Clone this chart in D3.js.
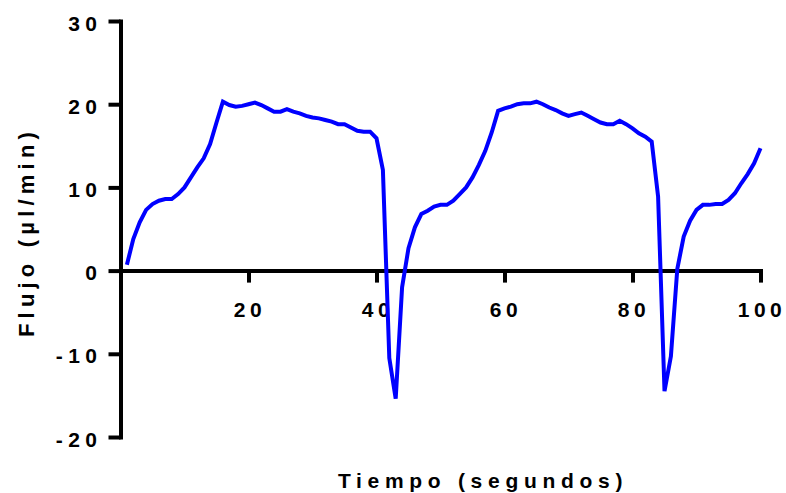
<!DOCTYPE html>
<meta charset="utf-8">
<title>Flujo vs tiempo</title>
<script src="https://d3js.org/d3.v7.min.js"></script>
<style>
  body { margin: 0; background: #fff; }
  text { font-family: "Liberation Sans", Arial, sans-serif; font-weight: bold; fill: #000; }
</style>
<body>
<div id="my_dataviz"></div>
</body>
<script>

// data: one sample per second
var tiempo = d3.range(1, 101)
var flujo = [
  0.7, 3.8, 5.8, 7.3, 8.0, 8.4, 8.6, 8.6, 9.2, 10.0,
  11.2, 12.4, 13.5, 15.2, 17.8, 20.3, 19.9, 19.7, 19.8, 20.0,
  20.2, 19.9, 19.5, 19.1, 19.1, 19.4, 19.1, 18.9, 18.6, 18.4,
  18.3, 18.1, 17.9, 17.6, 17.6, 17.2, 16.8, 16.7, 16.7, 15.9,
  12.1, -10.5, -15.4, -2.0, 2.7, 5.2, 6.8, 7.2, 7.7, 7.9,
  7.9, 8.4, 9.2, 10.0, 11.2, 12.7, 14.4, 16.6, 19.2, 19.5,
  19.7, 20.0, 20.1, 20.1, 20.3, 20.0, 19.6, 19.3, 18.9, 18.6,
  18.8, 19.0, 18.6, 18.2, 17.8, 17.6, 17.6, 18.0, 17.6, 17.1,
  16.5, 16.1, 15.5, 8.9, -14.5, -10.3, 0.2, 4.1, 6.0, 7.3,
  7.9, 7.9, 8.0, 8.0, 8.5, 9.3, 10.5, 11.6, 12.9, 14.7
]
var xTicks = [20, 40, 60, 80, 100]
var yTicks = [-20, -10, 0, 10, 20, 30]

var data = tiempo.map(function(t, i) { return { t: t, v: flujo[i] } })

var width = 786, height = 493

var svg = d3.select("#my_dataviz")
  .append("svg")
    .attr("width", width)
    .attr("height", height)

// scales
var x = d3.scaleLinear().domain([0, 100]).range([120.5, 760.5])
var y = d3.scaleLinear().domain([-20, 30]).range([437, 21])

// plain hyphen for negatives, like the original
var fmt = function(d) { return String(d) }

// Y axis
var yAxis = svg.append("g")
  .attr("transform", "translate(" + x(0) + ",0)")
  .call(d3.axisLeft(y).tickValues(yTicks).tickFormat(fmt).tickSize(12).tickSizeOuter(0).tickPadding(6))
yAxis.select(".domain").attr("stroke-width", 4).attr("stroke-linecap", "square")
yAxis.selectAll(".tick line").attr("stroke-width", 4)
yAxis.selectAll(".tick text")
  .attr("dy", 9)
  .style("font-size", "21px")
  .style("letter-spacing", "5.5px")

// X axis sits on y = 0
var xAxis = svg.append("g")
  .attr("transform", "translate(0," + y(0) + ")")
  .call(d3.axisBottom(x).tickValues(xTicks).tickFormat(fmt).tickSize(12).tickSizeOuter(0).tickPadding(19.5))
xAxis.select(".domain").attr("stroke-width", 4).attr("stroke-linecap", "square")
xAxis.selectAll(".tick line").attr("stroke-width", 4)
xAxis.selectAll(".tick text")
  .attr("dx", 1)
  .style("font-size", "21px")
  .style("letter-spacing", "4.5px")

// the curve
svg.append("path")
  .datum(data)
  .attr("fill", "none")
  .attr("stroke", "#0000ff")
  .attr("stroke-width", 4)
  .attr("d", d3.line()
    .x(function(d) { return x(d.t) })
    .y(function(d) { return y(d.v) }))

// axis titles
svg.append("text")
  .attr("x", 483)
  .attr("y", 488)
  .attr("text-anchor", "middle")
  .style("font-size", "21px")
  .style("letter-spacing", "5.7px")
  .text("Tiempo (segundos)")

svg.append("text")
  .attr("transform", "translate(34,232) rotate(-90)")
  .attr("text-anchor", "middle")
  .style("font-size", "22px")
  .style("letter-spacing", "5.2px")
  .text("Flujo (µl/min)")

</script>
